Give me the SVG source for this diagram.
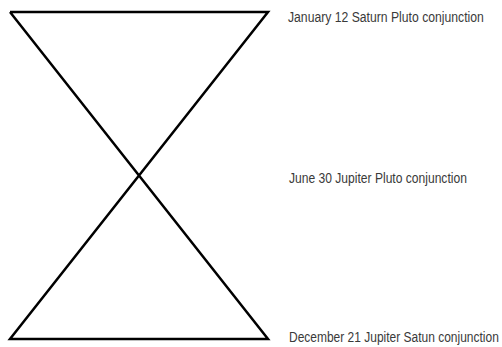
<svg xmlns="http://www.w3.org/2000/svg" width="502" height="347" viewBox="0 0 502 347">
<style>
.ln{stroke:#000;stroke-width:2.5;fill:none;stroke-linejoin:miter}
.t{font-family:"Liberation Sans",Arial,sans-serif;font-size:15.5px;fill:#3a3a3a}
</style>
<rect width="502" height="347" fill="#fff"/>
<g id="connectors">
<polyline class="ln" points="10,12 268,12 10,339 268,339 10,12"/>
</g>
<g id="label-jan" transform="translate(288,22) scale(0.78,1)"><text class="t" x="0" y="0" textLength="251" lengthAdjust="spacingAndGlyphs">January 12 Saturn Pluto conjunction</text></g>
<g id="label-jun" transform="translate(289,183) scale(0.78,1)"><text class="t" x="0" y="0" textLength="228" lengthAdjust="spacingAndGlyphs">June 30 Jupiter Pluto conjunction</text></g>
<g id="label-dec" transform="translate(289,342) scale(0.78,1)"><text class="t" x="0" y="0" textLength="269" lengthAdjust="spacingAndGlyphs">December 21 Jupiter Satun conjunction</text></g>
</svg>
